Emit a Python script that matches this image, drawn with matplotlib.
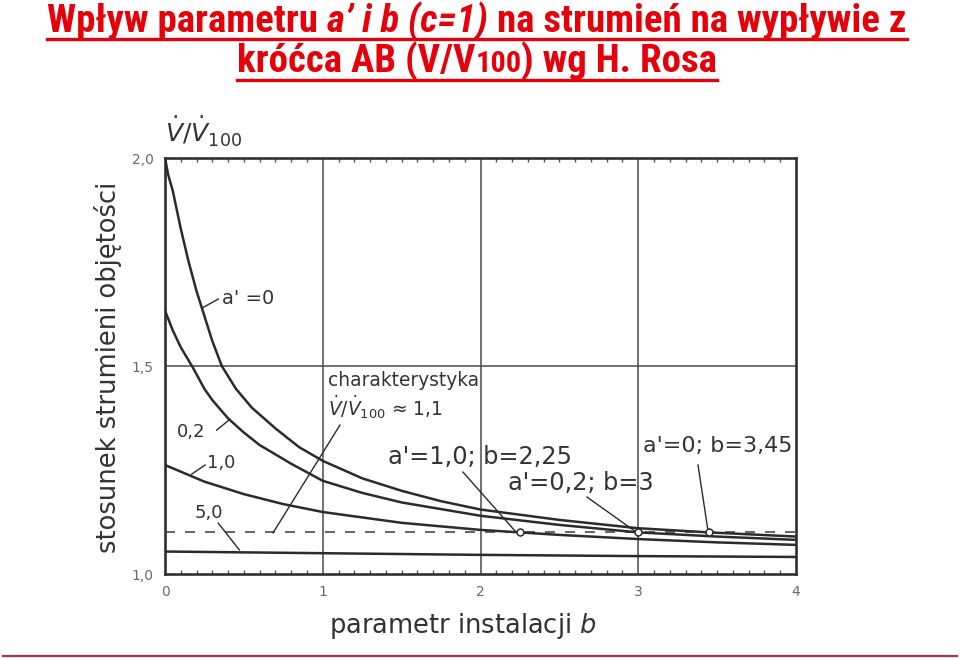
import matplotlib
matplotlib.use("Agg")
import matplotlib.pyplot as plt
from matplotlib import font_manager as fm
from matplotlib.lines import Line2D
from matplotlib.transforms import IdentityTransform
from matplotlib.ticker import MultipleLocator

# ---- data: volume flow ratio V/V100 versus installation parameter b ----
b_a0 = [0.0, 0.02, 0.05, 0.10, 0.15, 0.20, 0.25, 0.30, 0.36, 0.45, 0.55, 0.70,
        0.85, 1.00, 1.25, 1.50, 1.75, 2.00, 2.50, 3.00, 3.45, 4.00]
r_a0 = [2.00, 1.96, 1.92, 1.83, 1.75, 1.68, 1.62, 1.56, 1.50, 1.445, 1.40, 1.35,
        1.305, 1.272, 1.23, 1.20, 1.175, 1.155, 1.13, 1.11, 1.10, 1.09]

b_a02 = [0.0, 0.05, 0.10, 0.18, 0.25, 0.30, 0.40, 0.50, 0.60, 0.80, 1.00, 1.25,
         1.50, 2.00, 2.50, 3.00, 3.50, 4.00]
r_a02 = [1.633, 1.585, 1.545, 1.494, 1.445, 1.418, 1.374, 1.340, 1.310, 1.265,
         1.224, 1.195, 1.172, 1.140, 1.118, 1.100, 1.090, 1.082]

b_a1 = [0.0, 0.25, 0.50, 0.75, 1.00, 1.50, 2.00, 2.25, 2.50, 3.00, 3.50, 4.00]
r_a1 = [1.262, 1.222, 1.192, 1.168, 1.149, 1.123, 1.106, 1.100, 1.094, 1.084,
        1.076, 1.070]

b_a5 = [0.0, 1.0, 2.0, 3.0, 4.0]
r_a5 = [1.054, 1.050, 1.046, 1.043, 1.041]

ratio_char = 1.1                       # characteristic V/V100
points_b = [2.25, 3.0, 3.45]           # where curves a'=1,0 / 0,2 / 0 reach 1,1
points_r = [1.10, 1.10, 1.10]

x_ticks = [0, 1, 2, 3, 4]
x_ticklabels = ["0", "1", "2", "3", "4"]
y_ticks = [1.0, 1.5, 2.0]
y_ticklabels = ["1,0", "1,5", "2,0"]

title_red = "#e6000a"
ink = "#2b2b2b"
grid_c = "#4a4a4a"

names = {f.name for f in fm.fontManager.ttflist}
title_family = "Liberation Sans"
for cand in ["Liberation Sans Narrow", "Arial Narrow", "Roboto Condensed",
             "Open Sans Condensed", "Noto Sans Condensed", "DejaVu Sans Condensed"]:
    if cand in names:
        title_family = cand
        break

fig = plt.figure(figsize=(9.6, 6.59), dpi=100)
ax = fig.add_axes([165 / 960, 1 - 574 / 659, (796 - 165) / 960, (574 - 158) / 659])
ax.set_xlim(0, 4)
ax.set_ylim(1.0, 2.0)

# grid
for gx in [1, 2, 3]:
    ax.axvline(gx, color=grid_c, lw=1.1, zorder=1)
ax.axhline(1.5, color=grid_c, lw=1.1, zorder=1)

# curves
for bb, rr in [(b_a0, r_a0), (b_a02, r_a02), (b_a1, r_a1), (b_a5, r_a5)]:
    ax.plot(bb, rr, color=ink, lw=1.8, solid_capstyle="round", zorder=3)

ax.plot([0, 4], [ratio_char, ratio_char], color=grid_c, lw=1.2,
        dashes=(6, 6), zorder=2)
ax.plot(points_b, points_r, "o", ms=5, mfc="white", mec=ink, mew=1.1, zorder=5)

for s in ax.spines.values():
    s.set_color("#303030")
    s.set_linewidth(1.9)

ax.set_xticks(x_ticks)
ax.set_xticklabels(x_ticklabels)
ax.set_yticks(y_ticks)
ax.set_yticklabels(y_ticklabels)
ax.tick_params(axis="both", which="major", length=0, labelsize=10,
               labelcolor="#6a6a6a", pad=8)
ax.xaxis.set_minor_locator(MultipleLocator(0.1))
ax.tick_params(axis="x", which="minor", direction="in", length=3, width=1,
               color="#555555", top=True, bottom=True)

# curve labels
lab = dict(color="#333333", family="DejaVu Sans")
ax.text(0.36, 1.663, "a' =0", fontsize=14, va="center", ha="left", **lab)
ax.plot([0.233, 0.338], [1.639, 1.661], color=ink, lw=1.0)
ax.text(0.076, 1.341, "0,2", fontsize=13, va="center", ha="left", **lab)
ax.plot([0.328, 0.412], [1.346, 1.372], color=ink, lw=1.0)
ax.text(0.264, 1.266, "1,0", fontsize=13, va="center", ha="left", **lab)
ax.plot([0.169, 0.254], [1.240, 1.262], color=ink, lw=1.0)
ax.text(0.19, 1.146, "5,0", fontsize=13, va="center", ha="left", **lab)
ax.plot([0.338, 0.471], [1.122, 1.058], color=ink, lw=1.0)

ax.text(1.033, 1.464, "charakterystyka", fontsize=13.4, va="center", ha="left", **lab)
ax.text(1.033, 1.401, r"$\dot{V}/\dot{V}_{100}$ ≈ 1,1", fontsize=13.4,
        va="center", ha="left", **lab)
ax.plot([1.109, 0.685], [1.358, 1.099], color=ink, lw=1.0)

ax.text(1.414, 1.281, "a'=1,0; b=2,25", fontsize=17.3, va="center", ha="left", **lab)
ax.plot([1.889, 2.22], [1.245, 1.103], color=ink, lw=1.0)
ax.text(2.174, 1.219, "a'=0,2; b=3", fontsize=17.3, va="center", ha="left", **lab)
ax.plot([2.675, 2.975], [1.185, 1.104], color=ink, lw=1.0)
ax.text(3.03, 1.308, "a'=0; b=3,45", fontsize=16, va="center", ha="left", **lab)
ax.plot([3.379, 3.442], [1.262, 1.104], color=ink, lw=1.0)

# axis titles
fig.text(108, 659 - 367, "stosunek strumieni objętości", rotation=90,
         ha="center", va="center", fontsize=18.5, color="#333333",
         family="DejaVu Sans", transform=IdentityTransform())
fig.text(463, 659 - 626, r"parametr instalacji $b$", ha="center", va="center",
         fontsize=18.5, color="#333333", family="DejaVu Sans",
         transform=IdentityTransform())
fig.text(165, 659 - 143, r"$\dot{V}/\dot{V}_{100}$", ha="left", va="baseline",
         fontsize=18, color="#333333", transform=IdentityTransform())

# two-line underlined title built from styled pieces
renderer = fig.canvas.get_renderer()


def text_width(s, size, style):
    t = fig.text(0, 0, s, fontsize=size, fontweight="bold", fontstyle=style,
                 family=title_family, transform=IdentityTransform())
    w = t.get_window_extent(renderer).width
    t.remove()
    return w


def rich_line(pieces, baseline_top, target_w, size, ul_gap):
    # pieces: (text, style, scale, gap_before)
    space = text_width("x x", size, "normal") - text_width("xx", size, "normal")
    total = 0
    for s, st, sc, gap in pieces:
        total += text_width(s, size * sc, st) + (space if gap else 0)
    size = min(size, size * target_w / total)
    space = text_width("x x", size, "normal") - text_width("xx", size, "normal")
    widths = [text_width(s, size * sc, st) for s, st, sc, gap in pieces]
    total = sum(widths) + sum(space for p in pieces if p[3])
    x = 477 - total / 2
    x0 = x
    y = 659 - baseline_top
    for (s, st, sc, gap), w in zip(pieces, widths):
        if gap:
            x += space
        fig.text(x, y, s, fontsize=size * sc, fontweight="bold", fontstyle=st,
                 family=title_family, color=title_red, va="baseline",
                 ha="left", transform=IdentityTransform())
        x += w
    fig.add_artist(Line2D([x0, x], [y - ul_gap, y - ul_gap], color=title_red,
                          lw=2.4, transform=IdentityTransform()))


rich_line([("Wpływ parametru", "normal", 1.0, False),
           ("a’ i b (c=1)", "italic", 1.0, True),
           ("na strumień na wypływie z", "normal", 1.0, True)],
          32, 908, 28, 7)
rich_line([("króćca AB (V/V", "normal", 1.0, False),
           ("100", "normal", 0.78, False),
           (") wg H. Rosa", "normal", 1.0, False)],
          72, 498, 28, 8)

fig.add_artist(Line2D([3, 957], [659 - 656, 659 - 656], color="#b03040",
                      lw=1.6, transform=IdentityTransform()))

fig.savefig("out.png", dpi=100)
